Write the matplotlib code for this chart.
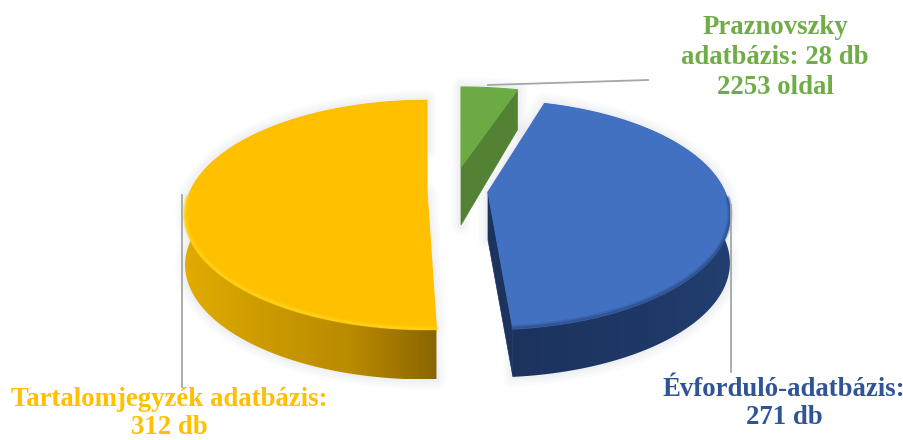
import numpy as np
import matplotlib
matplotlib.use('Agg')
import matplotlib.pyplot as plt
from matplotlib.colors import LinearSegmentedColormap
from matplotlib.patches import Polygon

names = ['Praznovszky adatbázis', 'Évforduló-adatbázis', 'Tartalomjegyzék adatbázis']
counts = [28, 271, 312]
label_lines = [
    ['Praznovszky', 'adatbázis: 28 db', '2253 oldal'],
    ['Évforduló-adatbázis:', '271 db'],
    ['Tartalomjegyzék adatbázis:', '312 db'],
]

# Look of the fake 3D pie (pixels, y going down)
RADIUS_X = 237
PERSPECTIVE = 0.2
centers = [(461, 167), (488, 192), (427, 192)]
radius_y = [96, 110, 110]
depth_apex = [58, 48, 50]
depth_rim = [40, 48, 50]
# small gaps cut at the slice ends, in degrees
trim_start = [0, 0, 2.0]
trim_end = [0, 1.0, 0]
top_colors = ['#6CAB43', '#4371C1', '#FFC000']
face_colors = ['#548235', '#1C335E']
wall_stops = [
    None,
    ['#1C335E', '#1E3764', '#223F70'],
    ['#8A6500', '#B98900', '#CB9A00', '#E2AB00'],
]
rim_colors = [None, '#2C4F8E', '#FFD41A']
text_colors = ['#70AD47', '#2F5597', '#FFC000']
text_x = [775, 784, 169]
text_y = [[28, 58, 88], [389, 417], [400, 427]]
leaders = [([488, 648], [85, 80]), ([731, 731], [205, 372]), ([182, 182], [195, 387])]


def rim_points(i, start, end):
    theta = np.radians(np.linspace(start, end, 200))
    u, v = np.sin(theta), -np.cos(theta)
    s = 1 / (1 - PERSPECTIVE * v)
    cx, cy = centers[i]
    return cx + RADIUS_X * u * s, cy + radius_y[i] * v * s


def soft_shadow(ax, xs, ys):
    # stacked wide strokes give a faint blurred halo
    for lw in [14, 10, 6, 3]:
        ax.add_patch(Polygon(np.column_stack([xs, ys]), closed=True, fc='none',
                             ec='#8C93A8', lw=lw, alpha=0.035, joinstyle='round', zorder=1))


fig = plt.figure(figsize=(9.04, 4.4), dpi=100)
ax = fig.add_axes([0, 0, 1, 1])
ax.set_xlim(0, 904)
ax.set_ylim(440, 0)
ax.axis('off')

edges = np.concatenate([[0], np.cumsum(counts)]) / sum(counts) * 360

for i in range(len(counts)):
    start, end = edges[i] + trim_start[i], edges[i + 1] - trim_end[i]
    xs, ys = rim_points(i, start, end)
    cx, cy = centers[i]

    # outer wall, shaded left to right
    drop = depth_rim[i]
    wall_x = np.concatenate([xs, xs[::-1]])
    wall_y = np.concatenate([ys, ys[::-1] + drop])
    shadow_x = np.concatenate([[cx], xs, xs[::-1], [cx]])
    shadow_y = np.concatenate([[cy], ys, ys[::-1] + drop, [cy + depth_apex[i]]])
    soft_shadow(ax, shadow_x, shadow_y)

    if wall_stops[i]:
        ramp = np.linspace(0, 1, 256).reshape(1, -1)
        cmap = LinearSegmentedColormap.from_list('wall', wall_stops[i])
        img = ax.imshow(ramp if i == 1 else ramp[:, ::-1], cmap=cmap, aspect='auto', zorder=2,
                        extent=[wall_x.min(), wall_x.max(), wall_y.max(), wall_y.min()])
        wall = Polygon(np.column_stack([wall_x, wall_y]), closed=True, fc='none', ec='none',
                       transform=ax.transData)
        ax.add_patch(wall)
        img.set_clip_path(wall)

    # radial cut faces that point towards the viewer
    if i < 2:
        face = [(cx, cy), (xs[-1], ys[-1]), (xs[-1], ys[-1] + drop), (cx, cy + depth_apex[i])]
        ax.add_patch(Polygon(face, closed=True, fc=face_colors[i], ec=face_colors[i], lw=0.5, zorder=3))

    # top of the slice
    ax.add_patch(Polygon(np.column_stack([np.r_[cx, xs], np.r_[cy, ys]]), closed=True,
                         fc=top_colors[i], ec=top_colors[i], lw=0.8, zorder=4))

    # bevel along the front rim
    if rim_colors[i]:
        front = ys >= cy + 6
        ax.plot(xs[front], ys[front] - 1.5, color=rim_colors[i], lw=3.5, alpha=0.35,
                solid_capstyle='round', zorder=5)
        ax.plot(xs[front], ys[front] - 1, color=rim_colors[i], lw=1.6, alpha=0.7,
                solid_capstyle='round', zorder=5)

for lx, ly in leaders:
    ax.plot(lx, ly, color='#A6A6A6', lw=1.3, zorder=6)

for i, lines in enumerate(label_lines):
    for line, y in zip(lines, text_y[i]):
        ax.text(text_x[i], y, line, color=text_colors[i], family='Liberation Serif',
                weight='bold', fontsize=19.3, ha='center', va='center', zorder=7)

fig.savefig('out.png', dpi=100)
